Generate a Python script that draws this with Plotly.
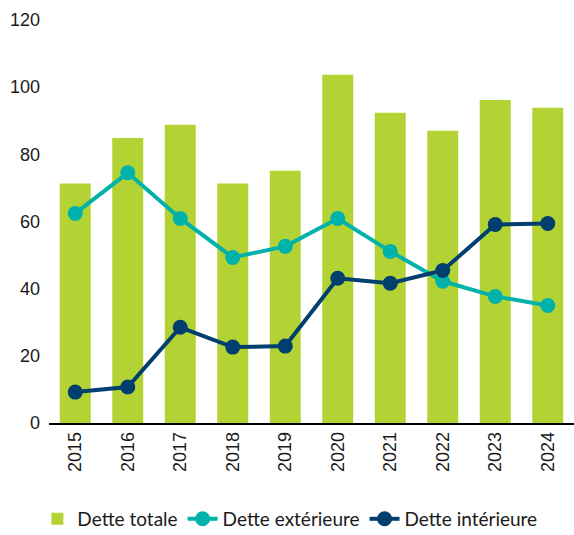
import plotly.graph_objects as go

years = ["2015", "2016", "2017", "2018", "2019", "2020", "2021", "2022", "2023", "2024"]
dette_totale = [71.3, 84.9, 88.8, 71.3, 75.1, 103.7, 92.4, 87.0, 96.2, 93.9]
dette_exterieure = [62.4, 74.5, 60.9, 49.3, 52.6, 60.9, 51.1, 42.2, 37.7, 35.0]
dette_interieure = [9.2, 10.7, 28.5, 22.6, 22.9, 43.1, 41.6, 45.4, 59.1, 59.4]

tick_font = dict(family="'Liberation Sans', Arial, sans-serif", size=18, color="#1a1a1a")
legend_font = dict(family="Lato, 'Open Sans', sans-serif", size=19, color="#1a1a1a")

fig = go.Figure()
fig.add_trace(go.Bar(x=years, y=dette_totale, name="Dette totale",
                     marker=dict(color="#b3d335", line=dict(width=0))))
fig.add_trace(go.Scatter(x=years, y=dette_exterieure, name="Dette extérieure",
                         mode="lines+markers",
                         line=dict(color="#00b2a9", width=4),
                         marker=dict(color="#00b2a9", size=15)))
fig.add_trace(go.Scatter(x=years, y=dette_interieure, name="Dette intérieure",
                         mode="lines+markers",
                         line=dict(color="#003f6e", width=4),
                         marker=dict(color="#003f6e", size=15)))

fig.update_layout(
    width=574, height=535,
    margin=dict(l=49, r=0, t=20, b=112, autoexpand=False),
    plot_bgcolor="white", paper_bgcolor="white",
    font=legend_font,
    bargap=0.41,
    showlegend=True,
    legend=dict(orientation="h", xref="container", x=0.505, xanchor="center",
                yref="container", y=0.03, yanchor="middle",
                font=legend_font, itemwidth=30, traceorder="normal"),
    xaxis=dict(tickangle=-90, showline=True, linecolor="black", linewidth=1.5,
               ticks="", showgrid=False, tickfont=tick_font, automargin=False,
               range=[-0.5, len(years) - 0.5], autorange=False),
    yaxis=dict(range=[0, 120], tickvals=[0, 20, 40, 60, 80, 100, 120],
               showgrid=False, zeroline=False, showline=False, ticks="",
               ticklabelstandoff=8, tickfont=tick_font, automargin=False),
)

fig.write_html("out.html", config={"displayModeBar": False},
               post_script="document.body.style.margin='0';document.body.style.overflow='hidden';")
